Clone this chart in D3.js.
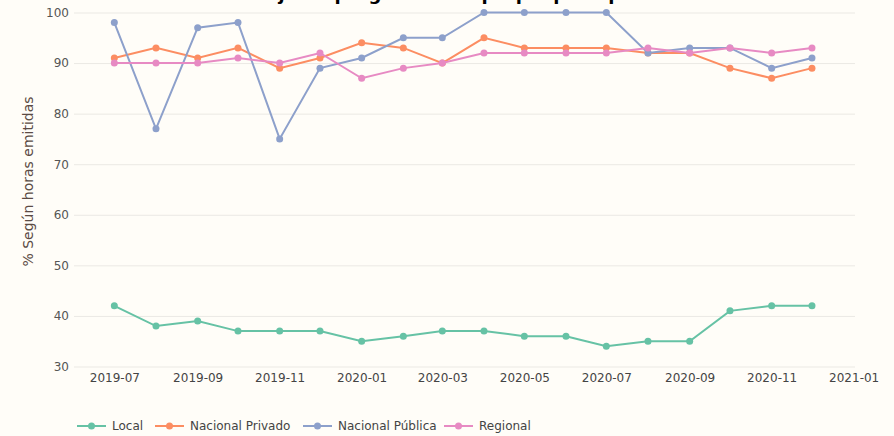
<!DOCTYPE html>
<html>
<head>
<meta charset="utf-8">
<script src="https://cdn.jsdelivr.net/npm/d3@7"></script>
<style>
  html, body { margin: 0; padding: 0; background: #fffdf8; }
  #chart { width: 894px; height: 436px; }
  text { font-family: "DejaVu Sans", Verdana, sans-serif; }
</style>
</head>
<body>
<div id="chart"></div>
<script>
// Data
const months = ['2019-07', '2019-08', '2019-09', '2019-10', '2019-11', '2019-12',
    '2020-01', '2020-02', '2020-03', '2020-04', '2020-05', '2020-06',
    '2020-07', '2020-08', '2020-09', '2020-10', '2020-11', '2020-12'];
const local = [42, 38, 39, 37, 37, 37, 35, 36, 37, 37, 36, 36, 34, 35, 35, 41, 42, 42];
const nacionalPrivado = [91, 93, 91, 93, 89, 91, 94, 93, 90, 95, 93, 93, 93, 92, 92, 89, 87, 89];
const nacionalPublica = [98, 77, 97, 98, 75, 89, 91, 95, 95, 100, 100, 100, 100, 92, 93, 93, 89, 91];
const regional = [90, 90, 90, 91, 90, 92, 87, 89, 90, 92, 92, 92, 92, 93, 92, 93, 92, 93];
const seriesNames = ['Local', 'Nacional Privado', 'Nacional Pública', 'Regional'];
const seriesColors = ['#66c2a5', '#fc8d62', '#8da0cb', '#e78ac3'];
const yTicks = [30, 40, 50, 60, 70, 80, 90, 100];
const title = 'Porcentaje de programación propia por tipo de emisora';
const yTitle = '% Según horas emitidas';

const width = 894, height = 436;
const margin = { top: 12.5, right: 39, bottom: 69.5, left: 74 };

const parse = d3.timeParse('%Y-%m');
const series = [local, nacionalPrivado, nacionalPublica, regional].map((vals, i) => ({
    name: seriesNames[i],
    color: seriesColors[i],
    values: vals.map((v, j) => ({ date: parse(months[j]), value: v }))
}));

const svg = d3.select('#chart').append('svg')
    .attr('width', width)
    .attr('height', height);

svg.append('rect').attr('width', width).attr('height', height).attr('fill', '#fffdf8');

const x = d3.scaleTime()
    .domain([new Date(2019, 5, 1), new Date(2021, 0, 2)])
    .range([margin.left, width - margin.right]);

const y = d3.scaleLinear()
    .domain([30, 100])
    .range([height - margin.bottom, margin.top]);

// title (mostly cut off at the top edge)
svg.append('text')
    .attr('x', 470)
    .attr('y', 0)
    .attr('text-anchor', 'middle')
    .attr('font-size', 18)
    .attr('font-weight', 'bold')
    .attr('fill', '#000')
    .text(title);

// gridlines + y labels
const yAxis = svg.append('g')
    .attr('transform', `translate(${margin.left},0)`)
    .call(d3.axisLeft(y).tickValues(yTicks).tickSize(-(width - margin.left - margin.right)).tickPadding(5));
yAxis.select('.domain').remove();
yAxis.selectAll('.tick line').attr('stroke', '#ebe9e4').attr('stroke-width', 1);
yAxis.selectAll('.tick text')
    .attr('font-size', 12)
    .attr('fill', '#555')
    .attr('font-family', '"DejaVu Sans", Verdana, sans-serif');

// x axis
const xAxis = svg.append('g')
    .attr('transform', `translate(0,${height - margin.bottom})`)
    .call(d3.axisBottom(x).ticks(d3.timeMonth.every(2)).tickFormat(d3.timeFormat('%Y-%m')).tickSize(0).tickPadding(7));
xAxis.select('.domain').remove();
xAxis.selectAll('.tick text')
    .attr('font-size', 12)
    .attr('fill', '#444')
    .attr('font-family', '"DejaVu Sans", Verdana, sans-serif');

// y title
svg.append('text')
    .attr('transform', `translate(33,${(margin.top + height - margin.bottom) / 2 - 8}) rotate(-90)`)
    .attr('text-anchor', 'middle')
    .attr('font-size', 14)
    .attr('fill', '#5b4b44')
    .text(yTitle);

// lines
const line = d3.line()
    .x(d => x(d.date))
    .y(d => y(d.value));

const lineGroups = svg.selectAll('.series')
    .data(series)
    .join('g')
    .attr('class', 'series');

lineGroups.append('path')
    .attr('d', d => line(d.values))
    .attr('fill', 'none')
    .attr('stroke', d => d.color)
    .attr('stroke-width', 2);

lineGroups.each(function(s) {
    d3.select(this).selectAll('circle')
        .data(s.values)
        .join('circle')
        .attr('cx', d => x(d.date))
        .attr('cy', d => y(d.value))
        .attr('r', 3.5)
        .attr('fill', s.color);
});

// legend
const legendX = [77, 155, 303, 444];
const legend = svg.append('g').attr('transform', 'translate(0,426)');
series.forEach((s, i) => {
    const g = legend.append('g').attr('transform', `translate(${legendX[i]},0)`);
    g.append('line')
        .attr('x1', 0).attr('x2', 29)
        .attr('stroke', s.color).attr('stroke-width', 2);
    g.append('circle').attr('cx', 14.5).attr('r', 3.5).attr('fill', s.color);
    g.append('text')
        .attr('x', 35)
        .attr('dy', '0.35em')
        .attr('font-size', 12)
        .attr('fill', '#444')
        .text(s.name);
});
</script>
</body>
</html>
